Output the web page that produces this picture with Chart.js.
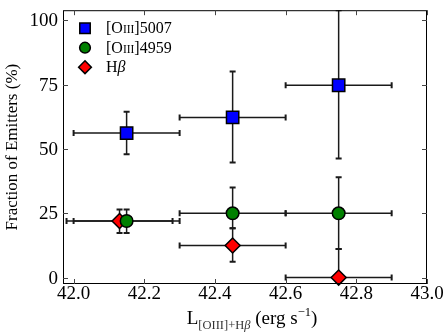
<!DOCTYPE html>
<html>
<head>
<meta charset="utf-8">
<script src="https://cdn.jsdelivr.net/npm/chart.js@4/dist/chart.umd.min.js"></script>
<style>
  html,body{margin:0;padding:0;background:#fff;}
  #wrap{width:447px;height:335px;}
</style>
</head>
<body>
<div id="wrap"><canvas id="chart" width="447" height="335"></canvas></div>
<script>
// data
const xTicks = [42.0, 42.2, 42.4, 42.6, 42.8, 43.0];
const yTicks = [0, 25, 50, 75, 100];

const o5007X    = [42.15, 42.45, 42.75];
const o5007Y    = [56.2, 62.3, 74.8];
const o5007XLo  = [42.0, 42.3, 42.6];
const o5007XHi  = [42.3, 42.6, 42.9];
const o5007YLo  = [48.0, 44.8, 46.3];
const o5007YHi  = [64.5, 80.2, 104];

const o4959X    = [42.15, 42.45, 42.75];
const o4959Y    = [22.0, 25.0, 25.0];
const o4959XLo  = [42.0, 42.3, 42.6];
const o4959XHi  = [42.3, 42.6, 42.9];
const o4959YLo  = [17.3, 19.2, 11.1];
const o4959YHi  = [26.5, 35.0, 39.0];

const hbX    = [42.13, 42.45, 42.75];
const hbY    = [22.0, 12.5, 0.0];
const hbXLo  = [41.98, 42.3, 42.6];
const hbXHi  = [42.28, 42.6, 42.9];
const hbYLo  = [17.3, 6.2, 0.0];
const hbYHi  = [26.5, 19.2, 11.1];

const SERIF = '"Liberation Serif", "DejaVu Serif", serif';

function pts(xs, ys){ return xs.map((x,i)=>({x:x, y:ys[i]})); }

const errs = [
  {xlo:o5007XLo, xhi:o5007XHi, ylo:o5007YLo, yhi:o5007YHi},
  {xlo:o4959XLo, xhi:o4959XHi, ylo:o4959YLo, yhi:o4959YHi},
  {xlo:hbXLo, xhi:hbXHi, ylo:hbYLo, yhi:hbYHi}
];

const errorBars = {
  id:'errorBars',
  beforeDatasetsDraw(chart){
    const ctx = chart.ctx, xs = chart.scales.x, ys = chart.scales.y, a = chart.chartArea;
    ctx.save();
    ctx.beginPath(); ctx.rect(a.left, a.top, a.right-a.left, a.bottom-a.top); ctx.clip();
    ctx.strokeStyle = '#1a1a1a';
    chart.data.datasets.forEach((ds, di) => {
      const e = errs[di];
      ds.data.forEach((p, i) => {
        const px = xs.getPixelForValue(p.x), py = ys.getPixelForValue(p.y);
        const x1 = xs.getPixelForValue(e.xlo[i]), x2 = xs.getPixelForValue(e.xhi[i]);
        const y1 = ys.getPixelForValue(e.ylo[i]), y2 = ys.getPixelForValue(e.yhi[i]);
        ctx.lineWidth = 1.5;
        ctx.beginPath();
        ctx.moveTo(x1, py); ctx.lineTo(x2, py);
        ctx.moveTo(px, y1); ctx.lineTo(px, y2);
        ctx.stroke();
        ctx.lineWidth = 2;
        ctx.beginPath();
        if (x1 !== px) { ctx.moveTo(x1, py-3); ctx.lineTo(x1, py+3); }
        if (x2 !== px) { ctx.moveTo(x2, py-3); ctx.lineTo(x2, py+3); }
        if (y1 !== py) { ctx.moveTo(px-3, y1); ctx.lineTo(px+3, y1); }
        if (y2 !== py) { ctx.moveTo(px-3, y2); ctx.lineTo(px+3, y2); }
        ctx.stroke();
      });
    });
    ctx.restore();
  }
};

// inward ticks on all four sides, the tick labels, axis titles and legend
const frame = {
  id:'frame',
  afterDraw(chart){
    const ctx = chart.ctx, xs = chart.scales.x, ys = chart.scales.y, a = chart.chartArea;
    ctx.save();
    ctx.strokeStyle = '#000';
    ctx.lineWidth = 1;
    ctx.strokeRect(a.left+0.5, a.top+0.5, a.right-a.left-1, a.bottom-a.top-1);
    ctx.strokeStyle = '#444';
    ctx.beginPath();
    xTicks.forEach(v => {
      const x = Math.round(xs.getPixelForValue(v))+0.5;
      ctx.moveTo(x, a.bottom); ctx.lineTo(x, a.bottom-5);
      ctx.moveTo(x, a.top); ctx.lineTo(x, a.top+5);
    });
    yTicks.forEach(v => {
      const y = Math.round(ys.getPixelForValue(v))+0.5;
      ctx.moveTo(a.left, y); ctx.lineTo(a.left+5, y);
      ctx.moveTo(a.right, y); ctx.lineTo(a.right-5, y);
    });
    ctx.stroke();

    ctx.fillStyle = '#000';
    ctx.font = '19px ' + SERIF;
    ctx.textAlign = 'center'; ctx.textBaseline = 'alphabetic';
    xTicks.forEach(v => ctx.fillText(v.toFixed(1), xs.getPixelForValue(v), 299));
    ctx.textAlign = 'right'; ctx.textBaseline = 'middle';
    yTicks.forEach(v => ctx.fillText(String(v), a.left-5, ys.getPixelForValue(v)+1));

    // y title
    ctx.save();
    ctx.translate(13, (a.top+a.bottom)/2);
    ctx.rotate(-Math.PI/2);
    ctx.textAlign = 'center'; ctx.textBaseline = 'middle';
    ctx.font = '17px ' + SERIF;
    ctx.fillText('Fraction of Emitters (%)', 0, 0);
    ctx.restore();

    // x title: L_[OIII]+Hβ (erg s^-1)
    const parts = [
      {t:'L', f:'19px '+SERIF, dy:0},
      {t:'[OIII]+H', f:'12.5px '+SERIF, dy:5, c:'#333'},
      {t:'β', f:'italic 12.5px '+SERIF, dy:5, c:'#333'},
      {t:' (erg s', f:'19px '+SERIF, dy:0},
      {t:'−1', f:'12.5px '+SERIF, dy:-8},
      {t:')', f:'19px '+SERIF, dy:0}
    ];
    let w = 0;
    parts.forEach(p => { ctx.font = p.f; w += ctx.measureText(p.t).width; });
    let x = (a.left+a.right)/2 + 7 - w/2;
    ctx.textAlign = 'left'; ctx.textBaseline = 'alphabetic';
    parts.forEach(p => {
      ctx.font = p.f; ctx.fillStyle = p.c || '#000';
      ctx.fillText(p.t, x, 324 + p.dy);
      x += ctx.measureText(p.t).width;
    });

    // legend inside top-left
    const rows = [
      {ds:0, label:['[O','III',']5007']},
      {ds:1, label:['[O','III',']4959']},
      {ds:2, label:['H','β','']}
    ];
    rows.forEach((r, i) => {
      const ds = chart.data.datasets[r.ds];
      const cy = a.top + 18 + i*19.5, cx = a.left + 22;
      const rr = ds.pointRadius*0.85;
      ctx.fillStyle = ds.backgroundColor; ctx.strokeStyle = '#000'; ctx.lineWidth = 1.5;
      ctx.beginPath();
      if (ds.pointStyle === 'rect') { const s = rr*Math.SQRT1_2; ctx.rect(cx-s, cy-s, 2*s, 2*s); }
      else if (ds.pointStyle === 'circle') { ctx.arc(cx, cy, rr, 0, Math.PI*2); }
      else { ctx.moveTo(cx, cy-rr); ctx.lineTo(cx+rr, cy); ctx.lineTo(cx, cy+rr); ctx.lineTo(cx-rr, cy); ctx.closePath(); }
      ctx.fill(); ctx.stroke();
      let tx = a.left + 43;
      ctx.fillStyle = '#000';
      ctx.textBaseline = 'middle'; ctx.textAlign = 'left';
      if (r.ds < 2) {
        ctx.font = '16px '+SERIF; ctx.fillText(r.label[0], tx, cy+1); tx += ctx.measureText(r.label[0]).width;
        ctx.font = '11.5px '+SERIF; ctx.fillText(r.label[1], tx, cy+2); tx += ctx.measureText(r.label[1]).width;
        ctx.font = '16px '+SERIF; ctx.fillText(r.label[2], tx, cy+1);
      } else {
        ctx.font = '16px '+SERIF; ctx.fillText(r.label[0], tx, cy+1); tx += ctx.measureText(r.label[0]).width;
        ctx.font = 'italic 16px '+SERIF; ctx.fillText(r.label[1], tx, cy+1);
      }
    });
    ctx.restore();
  }
};

new Chart(document.getElementById('chart'), {
  type:'scatter',
  data:{ datasets:[
    { label:'[OIII]5007', data:pts(o5007X, o5007Y), pointStyle:'rect', pointRadius:8.7,
      backgroundColor:'#0000ff', borderColor:'#000', borderWidth:1.5 },
    { label:'[OIII]4959', data:pts(o4959X, o4959Y), pointStyle:'circle', pointRadius:6.3,
      backgroundColor:'#008000', borderColor:'#000', borderWidth:1.5 },
    { label:'Hβ', data:pts(hbX, hbY), pointStyle:'rectRot', pointRadius:7.5,
      backgroundColor:'#ff0000', borderColor:'#000', borderWidth:1.5 }
  ]},
  options:{
    responsive:false, animation:false, devicePixelRatio:1,
    clip:false,
    layout:{ padding:{ top:3, right:20, left:0, bottom:0 } },
    plugins:{ legend:{display:false}, tooltip:{enabled:false} },
    scales:{
      x:{ type:'linear', min:41.97, max:43.0,
          grid:{display:false}, border:{display:false},
          ticks:{display:false},
          afterFit(s){ s.height = 51; } },
      y:{ type:'linear', min:-2.5, max:104,
          grid:{display:false}, border:{display:false},
          ticks:{display:false},
          afterFit(s){ s.width = 63; } }
    }
  },
  plugins:[errorBars, frame]
});
</script>
</body>
</html>
